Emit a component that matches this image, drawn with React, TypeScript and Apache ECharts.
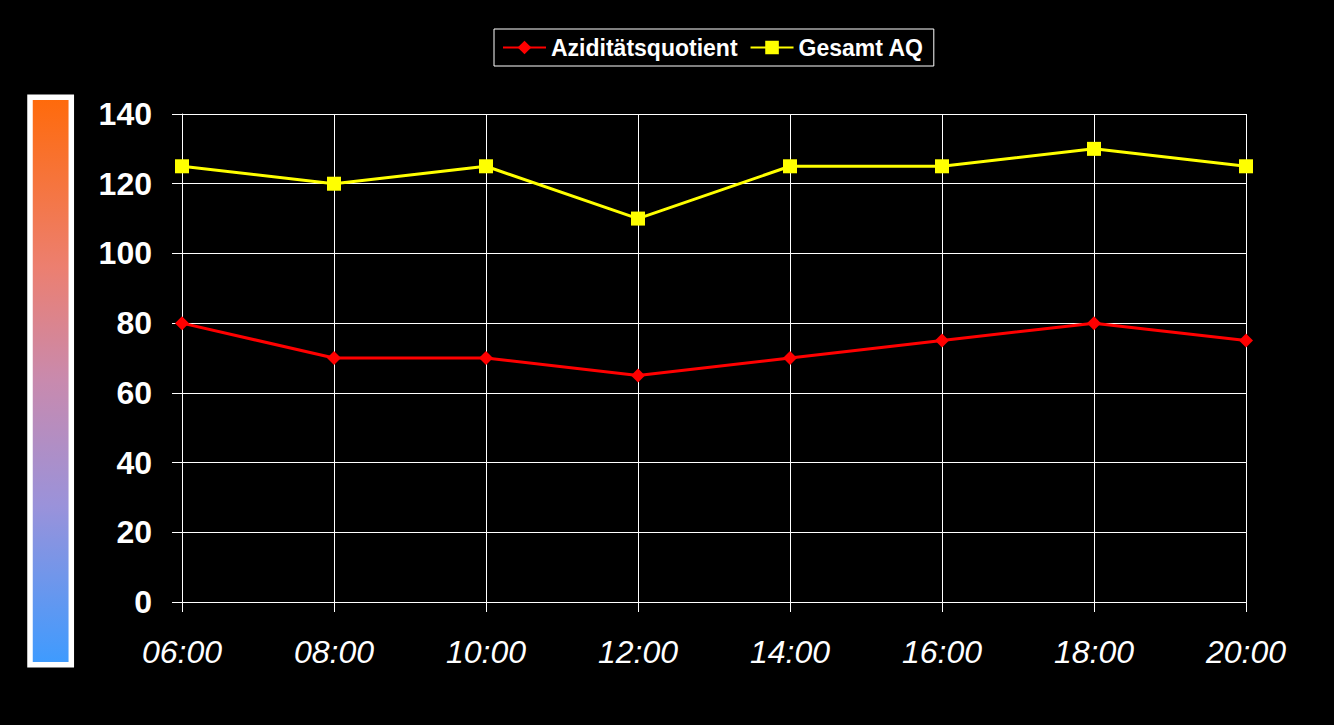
import React, { useEffect, useRef } from "react";
import * as echarts from "echarts";

const categories = ["06:00", "08:00", "10:00", "12:00", "14:00", "16:00", "18:00", "20:00"];
const aziditaet = [80, 70, 70, 65, 70, 75, 80, 75];
const gesamtAQ = [125, 120, 125, 110, 125, 125, 130, 125];
const seriesNames = ["Aziditätsquotient", "Gesamt AQ"];

const FONT = "Arial, 'Liberation Sans', sans-serif";

export default function App() {
  const ref = useRef<HTMLDivElement>(null);
  useEffect(() => {
    if (!ref.current) return;
    const chart = echarts.init(ref.current, null, { renderer: "svg" });
    chart.setOption({
      animation: false,
      backgroundColor: "#000000",
      grid: { left: 182, right: 88, top: 114, bottom: 123, containLabel: false },
      legend: {
        left: 494,
        top: 29,
        padding: [7, 10, 7, 8],
        borderColor: "#ffffff",
        borderWidth: 1,
        itemWidth: 43,
        itemHeight: 17,
        itemGap: 12,
        textStyle: { color: "#ffffff", fontSize: 23, fontWeight: "bold", fontFamily: FONT },
        data: seriesNames,
      },
      graphic: [
        {
          type: "rect",
          shape: { x: 30, y: 97.2, width: 41.3, height: 567.5 },
          style: {
            stroke: "#ffffff",
            lineWidth: 5.5,
            fill: new echarts.graphic.LinearGradient(0, 0, 0, 1, [
              { offset: 0, color: "#FF6A0A" },
              { offset: 0.3, color: "#EC7F70" },
              { offset: 0.5, color: "#C88AAE" },
              { offset: 0.72, color: "#9A92DA" },
              { offset: 1, color: "#3D9BFF" },
            ]),
          },
        },
      ],
      xAxis: {
        type: "category",
        data: categories,
        boundaryGap: false,
        axisLine: { show: true, lineStyle: { color: "#ffffff", width: 1 } },
        axisTick: { show: true, length: 10, lineStyle: { color: "#ffffff" } },
        splitLine: { show: true, lineStyle: { color: "#ffffff", width: 1 } },
        axisLabel: {
          color: "#ffffff",
          fontSize: 32,
          fontStyle: "italic",
          fontFamily: FONT,
          margin: 34,
        },
      },
      yAxis: {
        type: "value",
        min: 0,
        max: 140,
        interval: 20,
        axisLine: { show: true, lineStyle: { color: "#ffffff", width: 1 } },
        axisTick: { show: true, length: 10, lineStyle: { color: "#ffffff" } },
        splitLine: { show: true, lineStyle: { color: "#ffffff", width: 1 } },
        axisLabel: {
          color: "#ffffff",
          fontSize: 32,
          fontWeight: "bold",
          fontFamily: FONT,
          margin: 30,
        },
      },
      series: [
        {
          name: seriesNames[0],
          type: "line",
          data: aziditaet,
          symbol: "diamond",
          symbolSize: 14,
          color: "#FF0000",
          lineStyle: { color: "#FF0000", width: 3 },
          itemStyle: { color: "#FF0000" },
        },
        {
          name: seriesNames[1],
          type: "line",
          data: gesamtAQ,
          symbol: "rect",
          symbolSize: 14,
          color: "#FFFF00",
          lineStyle: { color: "#FFFF00", width: 3 },
          itemStyle: { color: "#FFFF00" },
        },
      ],
    });
    return () => chart.dispose();
  }, []);
  return (
    <div
      ref={ref}
      style={{ position: "absolute", left: 0, top: 0, width: 1334, height: 725, background: "#000" }}
    />
  );
}
